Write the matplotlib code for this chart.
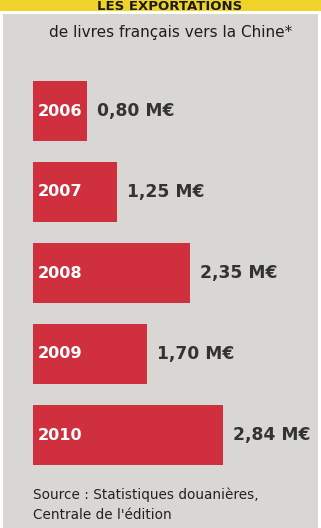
import matplotlib
matplotlib.use("Agg")
import matplotlib.pyplot as plt
from matplotlib.patches import Rectangle

years = ["2006", "2007", "2008", "2009", "2010"]
values = [0.80, 1.25, 2.35, 1.70, 2.84]
value_labels = ["0,80 M€", "1,25 M€", "2,35 M€", "1,70 M€", "2,84 M€"]
title = "LES EXPORTATIONS"
subtitle = "de livres français vers la Chine*"
source_lines = ["Source : Statistiques douanières,", "Centrale de l'édition"]

W, H = 321, 528
fig = plt.figure(figsize=(W / 100, H / 100), dpi=100)
fig.patch.set_facecolor("#ffffff")

def fx(px):
    return px / W

def fy(py):
    return 1 - py / H

# grey panel
fig.patches.append(Rectangle((fx(3), 0), fx(318) - fx(3), fy(14), transform=fig.transFigure,
                             facecolor="#d9d7d3", edgecolor="none", zorder=-2))
# yellow band
fig.patches.append(Rectangle((0, fy(11)), 1, 1 - fy(11), transform=fig.transFigure,
                             facecolor="#f1d42a", edgecolor="none", zorder=-2))

fig.text(fx(170), fy(10), title, ha="center", va="baseline", fontsize=9.5,
         fontweight="bold", color="#1a1a1a", family="DejaVu Sans")
fig.text(fx(171), fy(33), subtitle, ha="center", va="center", fontsize=11,
         color="#1e1e1e", family=["Liberation Sans Narrow", "DejaVu Sans"])

ax_top, ax_bot = 70.5, 475.5
ax = fig.add_axes([fx(33), fy(ax_bot), fx(318) - fx(33), (ax_bot - ax_top) / H])
ax.set_zorder(2)
ax.set_facecolor("none")
ypos = list(range(len(years)))
ax.barh(ypos, values, height=0.75, color="#d0303e", edgecolor="none")
ax.set_xlim(0, 285 / 67)
ax.set_ylim(len(years) - 0.5, -0.5)
for y, v, yr, lab in zip(ypos, values, years, value_labels):
    ax.text(0.07, y, yr, ha="left", va="center", fontsize=11.6, fontweight="bold",
            color="white", family="DejaVu Sans")
    ax.text(v + 0.15, y, lab, ha="left", va="center", fontsize=12.3, fontweight="bold",
            color="#333333", family="DejaVu Sans")
ax.axis("off")

fig.text(fx(33), fy(495), source_lines[0], ha="left", va="center", fontsize=9.8,
         color="#222222", family=["Liberation Sans Narrow", "DejaVu Sans"])
fig.text(fx(33), fy(515), source_lines[1], ha="left", va="center", fontsize=9.8,
         color="#222222", family=["Liberation Sans Narrow", "DejaVu Sans"])

fig.savefig("out.png", dpi=100)
